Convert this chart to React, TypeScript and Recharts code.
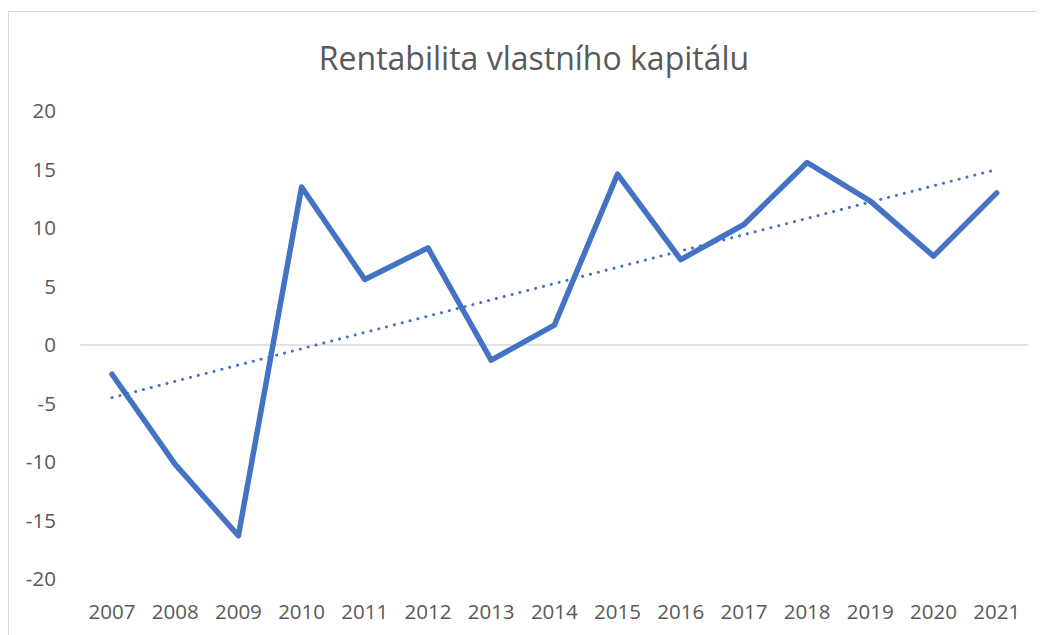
import { LineChart, Line, XAxis, YAxis, ReferenceLine } from "recharts";

const years = [
  "2007", "2008", "2009", "2010", "2011", "2012", "2013", "2014",
  "2015", "2016", "2017", "2018", "2019", "2020", "2021",
];
const roe = [
  -2.5, -10.2, -16.3, 13.5, 5.6, 8.3, -1.3, 1.7, 14.6, 7.3, 10.3, 15.6, 12.3, 7.6, 13.0,
];
// linear trendline, only the end points
const trend = [
  -4.5, null, null, null, null, null, null, null, null, null, null, null, null, null, 15.0,
];
const yTicks = [-20, -15, -10, -5, 0, 5, 10, 15, 20];

const data = years.map((year, i) => ({ year, roe: roe[i], trend: trend[i] }));

const font = "'Open Sans', 'Noto Sans', sans-serif";
const grey = "#595959";

export default function App() {
  return (
    <div
      style={{
        position: "relative",
        marginTop: 3,
        width: 1045,
        height: 640,
        border: "1.3px solid #d9d9d9",
        boxSizing: "border-box",
        background: "#fff",
        fontFamily: font,
      }}
    >
      <div
        style={{
          position: "absolute",
          top: 24,
          left: 0,
          width: 1050,
          textAlign: "center",
          fontSize: 32,
          color: grey,
        }}
      >
        Rentabilita vlastního kapitálu
      </div>
      <LineChart
        width={1043}
        height={623}
        data={data}
        margin={{ top: 99, right: 23.7, left: 0, bottom: 6 }}
      >
        <XAxis
          dataKey="year"
          axisLine={false}
          tickLine={false}
          tickSize={0}
          tickMargin={25}
          height={50}
          padding={{ left: 31.6, right: 31.6 }}
          tick={{ fill: grey, fontSize: 20.5, fontFamily: font }}
          interval={0}
        />
        <YAxis
          type="number"
          domain={[-20, 20]}
          ticks={yTicks}
          axisLine={false}
          tickLine={false}
          tickSize={0}
          tickMargin={24.5}
          width={71.4}
          tick={{ fill: grey, fontSize: 20.5, fontFamily: font }}
        />
        <ReferenceLine y={0} stroke="#d9d9d9" strokeWidth={1.5} />
        <Line
          type="linear"
          dataKey="roe"
          stroke="#4472c4"
          strokeWidth={5.5}
          strokeLinecap="round"
          strokeLinejoin="round"
          dot={false}
          activeDot={false}
          isAnimationActive={false}
        />
        <Line
          type="linear"
          dataKey="trend"
          stroke="#4472c4"
          strokeWidth={3}
          strokeDasharray="0.1 8"
          strokeLinecap="round"
          connectNulls
          dot={false}
          activeDot={false}
          isAnimationActive={false}
        />
      </LineChart>
    </div>
  );
}
